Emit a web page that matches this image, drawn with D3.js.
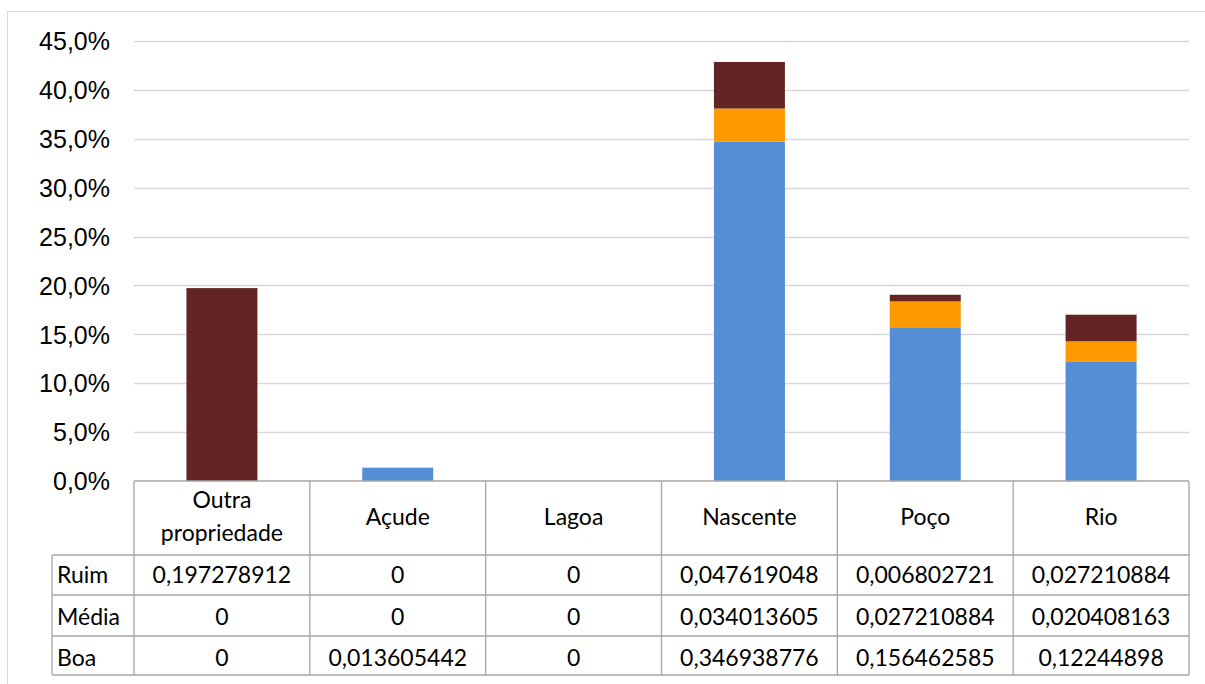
<!DOCTYPE html>
<html><head><meta charset="utf-8">
<script src="https://cdn.jsdelivr.net/npm/d3@7"></script>
<style>body{margin:0;background:#fff}svg{display:block}</style>
</head><body>
<svg id="c" width="1205" height="684"></svg>
<script>
const categories = ["Outra propriedade","Açude","Lagoa","Nascente","Poço","Rio"];
const categoryLines = [["Outra","propriedade"],["Açude"],["Lagoa"],["Nascente"],["Poço"],["Rio"]];
const seriesNames = ["Boa","Média","Ruim"];
const boa   = [0, 0.013605442, 0, 0.346938776, 0.156462585, 0.12244898];
const media = [0, 0, 0, 0.034013605, 0.027210884, 0.020408163];
const ruim  = [0.197278912, 0, 0, 0.047619048, 0.006802721, 0.027210884];
const tableRows = ["Ruim","Média","Boa"];
const tableLabels = {
  "Ruim": ["0,197278912","0","0","0,047619048","0,006802721","0,027210884"],
  "Média": ["0","0","0","0,034013605","0,027210884","0,020408163"],
  "Boa": ["0","0,013605442","0","0,346938776","0,156462585","0,12244898"]
};
const yTicks = [0,0.05,0.10,0.15,0.20,0.25,0.30,0.35,0.40,0.45];
const colors = {"Boa":"#558ED5","Média":"#FF9900","Ruim":"#632523"};

const svg = d3.select("#c");
// outer frame
svg.append("rect").attr("x",7.5).attr("y",11.5).attr("width",1205).attr("height",700)
  .attr("fill","none").attr("stroke","#D9D9D9");

const L = 134, R = 1189, T = 41, B = 481;
const x = d3.scaleBand().domain(categories).range([L,R]).paddingInner(0).paddingOuter(0);
const y = d3.scaleLinear().domain([0,0.45]).range([B,T]);
const fmt = v => d3.format(".1%")(v).replace(".",",");

// gridlines
svg.append("g").selectAll("line").data(yTicks.slice(1)).join("line")
  .attr("x1",L).attr("x2",R).attr("y1",d=>Math.round(y(d))+0.5).attr("y2",d=>Math.round(y(d))+0.5)
  .attr("stroke","#D9D9D9").attr("stroke-width",1.3);

// y axis labels
const yAxis = d3.axisLeft(y).tickValues(yTicks).tickFormat(fmt).tickSize(0).tickPadding(0);
const ga = svg.append("g").attr("transform",`translate(${L-24},0)`).call(yAxis);
ga.select(".domain").remove();
ga.selectAll("text").attr("font-family","'Liberation Sans',Arial,sans-serif").attr("font-size",25).attr("fill","#000").attr("dy","0.35em");

// stacked bars
const rows = categories.map((c,i)=>({cat:c,"Boa":boa[i],"Média":media[i],"Ruim":ruim[i]}));
const stack = d3.stack().keys(seriesNames)(rows);
const bw = 71;
svg.append("g").selectAll("g").data(stack).join("g").attr("fill",d=>colors[d.key])
  .selectAll("rect").data(d=>d).join("rect")
  .attr("x",d=>x(d.data.cat)+x.bandwidth()/2-bw/2).attr("width",bw)
  .attr("y",d=>y(d[1])).attr("height",d=>Math.max(0,y(d[0])-y(d[1])));

// data table
const tf = "Lato,'Noto Sans',sans-serif";
const fs = 23;
const rowY = [481,555,595,636,675];
const baseY = [583,624.5,665.5];
const labelX = 52;
const tg = svg.append("g").attr("stroke","#A6A6A6").attr("stroke-width",1.3);
tg.append("line").attr("x1",L).attr("x2",R).attr("y1",rowY[0]).attr("y2",rowY[0]);
for (let k=1;k<rowY.length;k++) tg.append("line").attr("x1",labelX).attr("x2",R).attr("y1",rowY[k]).attr("y2",rowY[k]);
tg.append("line").attr("x1",labelX).attr("x2",labelX).attr("y1",rowY[1]).attr("y2",rowY[4]);
categories.forEach(c=>{
  tg.append("line").attr("x1",x(c)).attr("x2",x(c)).attr("y1",rowY[0]).attr("y2",rowY[4]);
});
tg.append("line").attr("x1",R).attr("x2",R).attr("y1",rowY[0]).attr("y2",rowY[4]);

// category headers
categories.forEach((c,i)=>{
  const lines = categoryLines[i];
  const cx = x(c)+x.bandwidth()/2;
  lines.forEach((t,j)=>{
    svg.append("text").attr("x",cx).attr("y",524.5+(j-(lines.length-1)/2)*32.5)
      .attr("text-anchor","middle").attr("font-family",tf).attr("font-size",fs).text(t);
  });
});
// rows
tableRows.forEach((r,k)=>{
  const my = baseY[k];
  svg.append("text").attr("x",labelX+5).attr("y",my).attr("font-family",tf).attr("font-size",fs).text(r);
  categories.forEach((c,i)=>{
    svg.append("text").attr("x",x(c)+x.bandwidth()/2).attr("y",my).attr("text-anchor","middle")
      .attr("font-family",tf).attr("font-size",fs).text(tableLabels[r][i]);
  });
});
</script>
</body></html>
